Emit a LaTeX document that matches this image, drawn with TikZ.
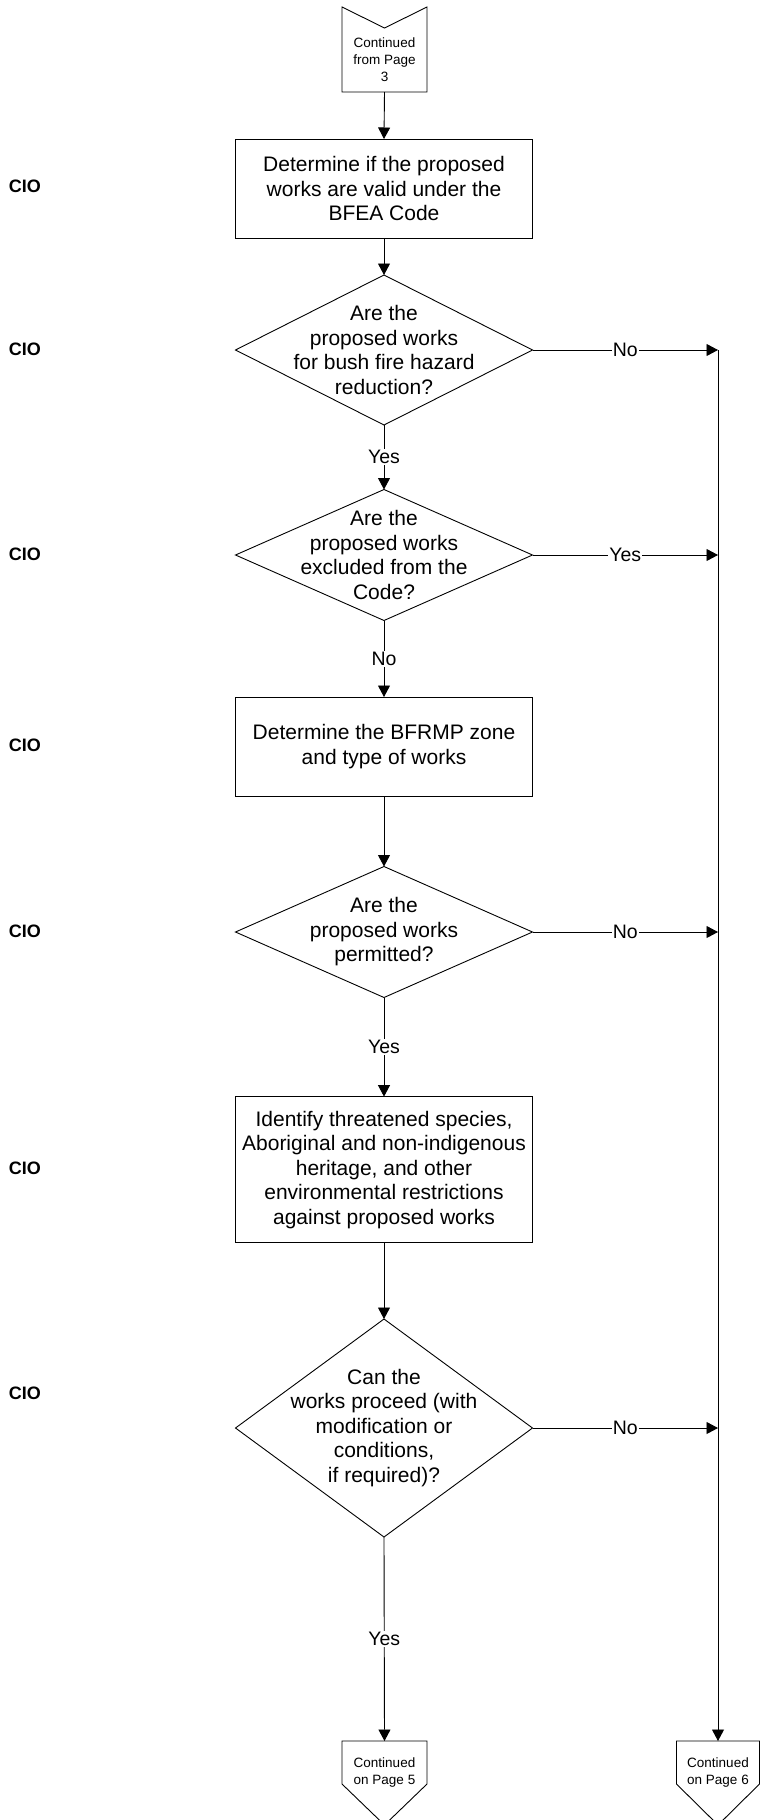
\documentclass[tikz,border=0pt]{standalone}
\usepackage{fontspec}
\setmainfont{Liberation Sans}
\usetikzlibrary{arrows.meta,shapes.geometric,calc}
\begin{document}
\begin{tikzpicture}[x=1pt,y=-1pt,
  every node/.style={inner sep=0pt, outer sep=0pt},
  box/.style={draw, line width=0.9pt, rectangle, minimum width=297pt, align=center, font=\fontsize{21}{24.5}\selectfont},
  dia/.style={draw, line width=0.9pt, diamond, minimum width=297pt},
  txt/.style={align=center, font=\fontsize{21}{24.5}\selectfont},
  small/.style={align=center, font=\fontsize{13.5}{17}\selectfont},
  lab/.style={fill=white, inner sep=1pt, font=\fontsize{19.5}{22}\selectfont},
  role/.style={anchor=west, font=\bfseries\fontsize{18}{21}\selectfont},
  arr/.style={line width=0.9pt, -{Triangle[length=11.5pt,width=12pt]}},
  ln/.style={line width=0.9pt},
  conn/.style={minimum width=85pt, minimum height=85pt}
]
\useasboundingbox (0,0) rectangle (760,1820);

% role labels
\node[role] (r1) at (9,186) {CIO};
\node[role] (r2) at (9,349) {CIO};
\node[role] (r3) at (9,554) {CIO};
\node[role] (r4) at (9,745) {CIO};
\node[role] (r5) at (9,931) {CIO};
\node[role] (r6) at (9,1168) {CIO};
\node[role] (r7) at (9,1393) {CIO};

% top off-page connector
\node[conn] (topc) at (384.5,49.5) {};
\draw[ln] (topc.north west) -- ($(topc.north)+(0,21)$) -- (topc.north east) -- (topc.south east) -- (topc.south west) -- cycle;
\node[small] (topt) at (384.5,59.5) {Continued\\from Page\\3};

% main column
\node[box, minimum height=99pt] (b1) at (384,188.5) {Determine if the proposed\\works are valid under the\\BFEA Code};

\node[dia, minimum height=150pt] (d1) at (384,350) {};
\node[txt] (t1) at (384,350) {Are the\\proposed works\\for bush fire hazard\\reduction?};

\node[dia, minimum height=131pt] (d2) at (384,555) {};
\node[txt] (t2) at (384,555) {Are the\\proposed works\\excluded from the\\Code?};

\node[box, minimum height=99pt] (b2) at (384,746.5) {Determine the BFRMP zone\\and type of works};

\node[dia, minimum height=131pt] (d3) at (384,932) {};
\node[txt] (t3) at (384,932) {Are the\\proposed works\\permitted?};

\node[box, minimum height=146pt] (b3) at (384,1169.6) {Identify threatened species,\\Aboriginal and non-indigenous\\heritage, and other\\environmental restrictions\\against proposed works};

\node[dia, minimum height=218pt] (d4) at (384,1428) {};
\node[txt] (t4) at (384,1428) {Can the\\works proceed (with\\modification or\\conditions,\\if required)?};

% bottom off-page connectors
\node[conn, minimum height=84pt] (bot1) at (384.5,1783) {};
\draw[ln] (bot1.north west) -- (bot1.north east) -- ($(bot1.north east)+(0,43)$) -- (bot1.south) -- ($(bot1.north west)+(0,43)$) -- cycle;
\node[small] (bt1) at (384.5,1772) {Continued\\on Page 5};

\node[conn, minimum height=84pt, minimum width=83pt] (bot2) at (718,1783) {};
\draw[ln] (bot2.north west) -- (bot2.north east) -- ($(bot2.north east)+(0,43)$) -- (bot2.south) -- ($(bot2.north west)+(0,43)$) -- cycle;
\node[small] (bt2) at (718,1772) {Continued\\on Page 6};

% junctions on right line
\coordinate (j1) at (718,350);
\coordinate (j2) at (718,555);
\coordinate (j3) at (718,932);
\coordinate (j4) at (718,1428);

% vertical flow
\draw[arr] (topc.south) -- (b1.north);
\draw[arr] (b1.south) -- (d1.north);
\draw[arr] (d1.south) -- node[lab] {Yes} (d2.north);
\draw[arr] (d2.south) -- node[lab] {No} (b2.north);
\draw[arr] (b2.south) -- (d3.north);
\draw[arr] (d3.south) -- node[lab] {Yes} (b3.north);
\draw[arr] (b3.south) -- (d4.north);
\draw[arr] (d4.south) -- node[lab] {Yes} (bot1.north);

% right branches
\draw[arr] (d1.east) -- node[lab] {No} (j1);
\draw[arr] (d2.east) -- node[lab] {Yes} (j2);
\draw[arr] (d3.east) -- node[lab] {No} (j3);
\draw[arr] (d4.east) -- node[lab] {No} (j4);
\draw[arr] (j1) -- (bot2.north);
\end{tikzpicture}
\end{document}
